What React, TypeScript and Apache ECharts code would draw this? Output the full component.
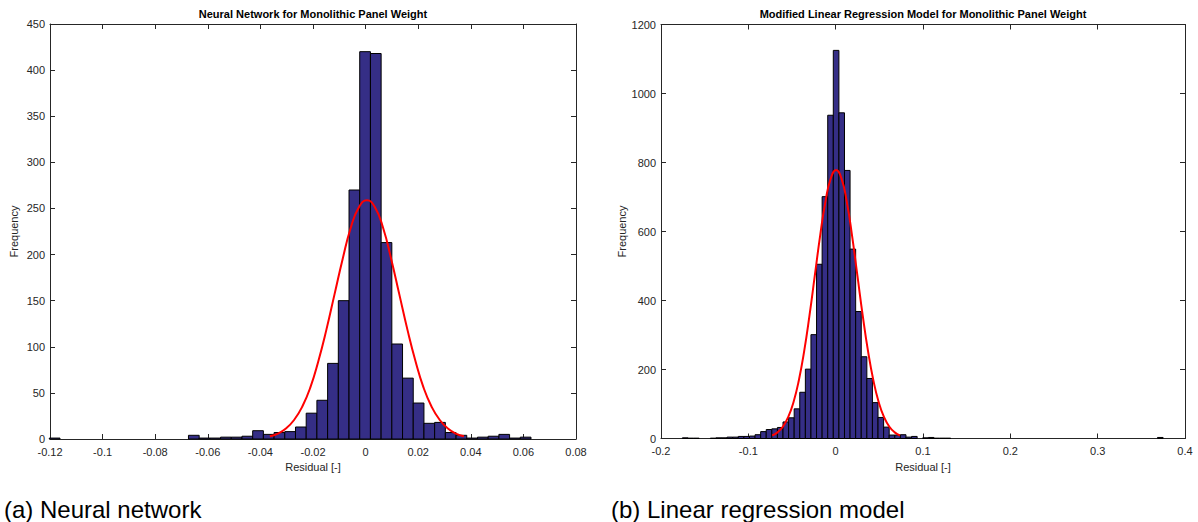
import React, { useEffect, useRef } from "react";
import * as echarts from "echarts";

// ---------- Data ----------
// (a) Neural network histogram
const nnTitle = "Neural Network for Monolithic Panel Weight";
const nnBinWidth = 0.00407;
const nnFirstCenter = -0.11823;
const nnCounts = [
  1, 0, 0, 0, 0, 0, 0, 0, 0, 0, 0, 0, 0,
  4, 1, 1, 2, 2, 3,
  9, 5, 7, 8, 13, 28, 42, 82, 150, 270,
  420, 418, 213, 103, 66, 39, 17, 18, 7, 4, 1, 2, 3, 5, 1, 2,
];
const nnFitX = [
  -0.0364, -0.0333, -0.0303, -0.0272, -0.0241, -0.021, -0.018, -0.0149, -0.0118,
  -0.0087, -0.0057, -0.0026, 0.0005, 0.0036, 0.0067, 0.0097, 0.0128, 0.0159, 0.019,
  0.022, 0.0251, 0.0282, 0.0313, 0.0343, 0.0374,
];
const nnFitY = [
  2.9, 5.9, 11.4, 20.6, 35.0, 56.0, 84.1, 118.6, 157.1, 195.5, 228.6, 251.0, 259,
  251.0, 228.6, 195.5, 157.1, 118.6, 84.1, 56.0, 35.0, 20.6, 11.4, 5.9, 2.9,
];
const nnXTicks = { min: -0.12, max: 0.08, interval: 0.02 };
const nnYTicks = { min: 0, max: 450, interval: 50 };

// (b) Linear regression histogram
const lrTitle = "Modified Linear Regression Model for Monolithic Panel Weight";
const lrBinWidth = 0.0064;
const lrFirstCenter = -0.1723;
const lrCounts = [
  2, 1, 1, 0, 0, 1, 2, 2, 4, 4, 6, 6, 7, 11, 20, 26, 28, 32, 48, 60, 86, 134, 201, 301,
  505, 701, 937, 1125, 944, 777, 549, 368, 237, 174, 104, 61, 33, 10, 10, 11, 4, 6, 0,
  2, 3, 1, 1, 1,
  0, 0, 0, 0, 0, 0, 0, 0, 0, 0, 0, 0, 0, 0, 0, 0, 0, 0, 0, 0, 0, 0, 0, 0, 0, 0, 0, 0,
  0, 0, 0, 0, 0, 0, 0, 0, 0,
  3,
];
const lrFitX = [
  -0.0727, -0.0666, -0.0605, -0.0544, -0.0483, -0.0422, -0.0361, -0.03, -0.0239,
  -0.0178, -0.0117, -0.0056, 0.0005, 0.0066, 0.0127, 0.0188, 0.0249, 0.031, 0.0371,
  0.0432, 0.0493, 0.0554, 0.0615, 0.0676, 0.0737,
];
const lrFitY = [
  8.6, 17.7, 34.2, 61.9, 105.3, 168.3, 252.6, 356.2, 471.9, 587.2, 686.6, 754.0, 778,
  754.0, 686.6, 587.2, 471.9, 356.2, 252.6, 168.3, 105.3, 61.9, 34.2, 17.7, 8.6,
];
const lrXTicks = { min: -0.2, max: 0.4, interval: 0.1 };
const lrYTicks = { min: 0, max: 1200, interval: 200 };

const xName = "Residual [-]";
const yName = "Frequency";
const captions = ["(a) Neural network", "(b) Linear regression model"];

// ---------- Styling ----------
const FONT = "'Liberation Sans', Arial, Helvetica, sans-serif";
const AXIS_COLOR = "#262626";
const BAR_COLOR = "#352E86";
const FIT_COLOR = "#FF0000";

function binData(first: number, w: number, counts: number[]) {
  return counts.map((c, i) => {
    const center = first + i * w;
    return [center - w / 2, center + w / 2, c];
  });
}

function fmtX(v: number) {
  const r = Math.round(v * 1000) / 1000;
  return String(r === 0 ? 0 : r);
}

function fmtY(v: number) {
  return String(Math.round(v));
}

function renderBar(params: any, api: any) {
  const c = api.value(2);
  if (!c) return null;
  const p0 = api.coord([api.value(0), c]);
  const p1 = api.coord([api.value(1), 0]);
  return {
    type: "rect",
    shape: { x: p0[0], y: p0[1], width: p1[0] - p0[0], height: p1[1] - p0[1] },
    style: { fill: BAR_COLOR, stroke: "#000", lineWidth: 1 },
  };
}

function xAxes(grid: number, t: any) {
  const common = {
    gridIndex: grid,
    type: "value",
    min: t.min,
    max: t.max,
    interval: t.interval,
    splitLine: { show: false },
    axisLine: { show: true, onZero: false, lineStyle: { color: AXIS_COLOR, width: 1 } },
    axisTick: { show: true, inside: true, length: 5, lineStyle: { color: AXIS_COLOR } },
  };
  return [
    {
      ...common,
      position: "bottom",
      name: xName,
      nameLocation: "middle",
      nameGap: 22,
      nameTextStyle: { fontFamily: FONT, fontSize: 11, color: AXIS_COLOR },
      axisLabel: {
        fontFamily: FONT,
        fontSize: 11,
        color: AXIS_COLOR,
        margin: 7,
        formatter: fmtX,
      },
    },
    { ...common, position: "top", axisLabel: { show: false } },
  ];
}

function yAxes(grid: number, t: any, gap: number) {
  const common = {
    gridIndex: grid,
    type: "value",
    min: t.min,
    max: t.max,
    interval: t.interval,
    splitLine: { show: false },
    axisLine: { show: true, onZero: false, lineStyle: { color: AXIS_COLOR, width: 1 } },
    axisTick: { show: true, inside: true, length: 5, lineStyle: { color: AXIS_COLOR } },
  };
  return [
    {
      ...common,
      position: "left",
      name: yName,
      nameLocation: "middle",
      nameGap: gap,
      nameTextStyle: { fontFamily: FONT, fontSize: 11, color: AXIS_COLOR },
      axisLabel: {
        fontFamily: FONT,
        fontSize: 11,
        color: AXIS_COLOR,
        margin: 5,
        formatter: fmtY,
      },
    },
    { ...common, position: "right", axisLabel: { show: false } },
  ];
}

export default function App() {
  const ref = useRef<HTMLDivElement>(null);

  useEffect(() => {
    if (!ref.current) return;
    const chart = echarts.init(ref.current, null, { renderer: "svg" });
    const option: any = {
      animation: false,
      backgroundColor: "#fff",
      grid: [
        { left: 50, right: 622, top: 24, bottom: 83 },
        { left: 661, right: 13, top: 24.5, bottom: 83.5 },
      ],
      xAxis: [...xAxes(0, nnXTicks), ...xAxes(1, lrXTicks)],
      yAxis: [...yAxes(0, nnYTicks, 31), ...yAxes(1, lrYTicks, 32)],
      series: [
        {
          type: "custom",
          xAxisIndex: 0,
          yAxisIndex: 0,
          renderItem: renderBar,
          encode: { x: [0, 1], y: 2 },
          data: binData(nnFirstCenter, nnBinWidth, nnCounts),
          z: 2,
        },
        {
          type: "line",
          xAxisIndex: 0,
          yAxisIndex: 0,
          data: nnFitX.map((x, i) => [x, nnFitY[i]]),
          showSymbol: false,
          smooth: true,
          lineStyle: { color: FIT_COLOR, width: 2 },
          z: 3,
        },
        {
          type: "custom",
          xAxisIndex: 2,
          yAxisIndex: 2,
          renderItem: renderBar,
          encode: { x: [0, 1], y: 2 },
          data: binData(lrFirstCenter, lrBinWidth, lrCounts),
          z: 2,
        },
        {
          type: "line",
          xAxisIndex: 2,
          yAxisIndex: 2,
          data: lrFitX.map((x, i) => [x, lrFitY[i]]),
          showSymbol: false,
          smooth: true,
          lineStyle: { color: FIT_COLOR, width: 2 },
          z: 3,
        },
      ],
      graphic: [
        {
          type: "text",
          x: 313,
          y: 14,
          style: {
            text: nnTitle,
            fontFamily: FONT,
            fontSize: 11,
            fontWeight: "bold",
            fill: "#000",
            textAlign: "center",
            textVerticalAlign: "middle",
          },
        },
        {
          type: "text",
          x: 923,
          y: 14,
          style: {
            text: lrTitle,
            fontFamily: FONT,
            fontSize: 11,
            fontWeight: "bold",
            fill: "#000",
            textAlign: "center",
            textVerticalAlign: "middle",
          },
        },
        {
          type: "text",
          x: 4,
          y: 509,
          style: {
            text: captions[0],
            fontFamily: FONT,
            fontSize: 24,
            fill: "#000",
            textAlign: "left",
            textVerticalAlign: "middle",
          },
        },
        {
          type: "text",
          x: 611,
          y: 509,
          style: {
            text: captions[1],
            fontFamily: FONT,
            fontSize: 24,
            fill: "#000",
            textAlign: "left",
            textVerticalAlign: "middle",
          },
        },
      ],
    };
    chart.setOption(option);
    return () => chart.dispose();
  }, []);

  return (
    <div
      ref={ref}
      style={{ position: "absolute", left: 0, top: 0, width: 1198, height: 522, background: "#fff" }}
    />
  );
}
